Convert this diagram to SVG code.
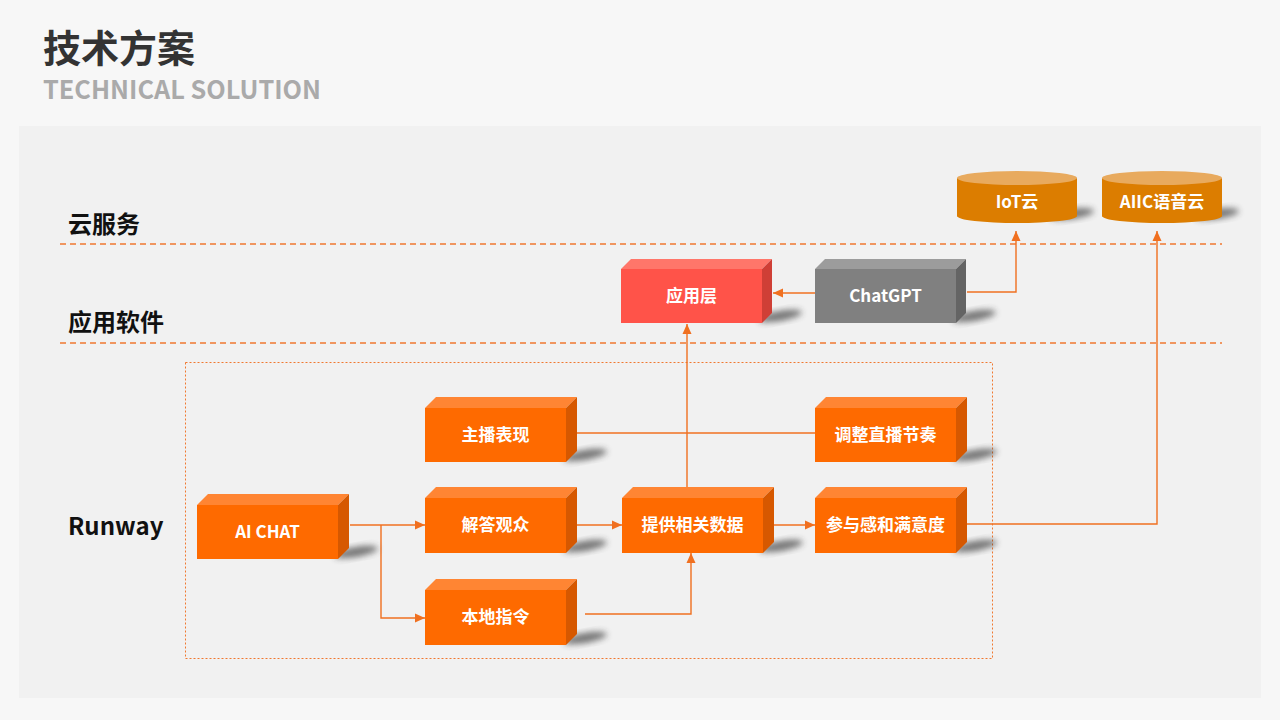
<svg xmlns="http://www.w3.org/2000/svg" width="1280" height="720" viewBox="0 0 1280 720">
<defs>
<style>
.title{font-family:"Noto Sans CJK SC","Noto Sans",sans-serif;font-weight:bold;}
.lab{font-family:"Noto Sans CJK SC","Noto Sans",sans-serif;font-weight:bold;font-size:24px;fill:#111;}
.bt{font-family:"Noto Sans CJK SC","Noto Sans",sans-serif;font-weight:bold;font-size:17px;fill:#fff;text-anchor:middle;}
.of{fill:#fe6a00}.ot{fill:#ff8533}.os{fill:#d65800}
.rf{fill:#ff5349}.rt{fill:#ff766a}.rs{fill:#cf3f36}
.gf{fill:#808080}.gt{fill:#9c9c9c}.gs{fill:#646464}
.sh{fill:#333;opacity:0.65;filter:url(#blur);}
.con{fill:none;stroke:#f07020;stroke-width:1.4;}
.dash{stroke:#f07830;stroke-width:1.3;stroke-dasharray:6 4;fill:none;}
</style>
<filter id="blur" x="-50%" y="-50%" width="200%" height="200%"><feGaussianBlur stdDeviation="3"/></filter>
<marker id="arr" markerUnits="userSpaceOnUse" markerWidth="10" markerHeight="10" viewBox="0 0 10 10" refX="10" refY="5" orient="auto"><path d="M0,0.5 L10,5 L0,9.5 Z" fill="#f07020"/></marker>
</defs>
<rect x="0" y="0" width="1280" height="720" fill="#f7f7f7"/>
<rect x="19" y="126" width="1242" height="572" fill="#f1f1f1"/>
<text class="title" x="43" y="62" font-size="38" fill="#333">技术方案</text>
<text class="title" x="43" y="99" font-size="26" fill="#aaaaaa" textLength="278" lengthAdjust="spacingAndGlyphs">TECHNICAL SOLUTION</text>

<g id="layers">
<line class="dash" x1="60" y1="244" x2="1222" y2="244"/>
<line class="dash" x1="60" y1="343" x2="1222" y2="343"/>
<text class="lab" x="68" y="233">云服务</text>
<text class="lab" x="68" y="331">应用软件</text>
<text class="lab" x="68" y="535" font-size="24.5">Runway</text>
<rect x="185.5" y="362.5" width="807" height="296" fill="none" stroke="#f07830" stroke-width="1" stroke-dasharray="2 2"/>
</g>

<g id="connectors">
<path class="con" d="M350,525 H425" marker-end="url(#arr)"/>
<path class="con" d="M381,525 V618 H425" marker-end="url(#arr)"/>
<path class="con" d="M577,433 H815"/>
<path class="con" d="M577,525 H622" marker-end="url(#arr)"/>
<path class="con" d="M585,614 H691 V553" marker-end="url(#arr)"/>
<path class="con" d="M687,487 V324" marker-end="url(#arr)"/>
<path class="con" d="M773,525 H815" marker-end="url(#arr)"/>
<path class="con" d="M967,524 H1157 V231" marker-end="url(#arr)"/>
<path class="con" d="M815,293 H773" marker-end="url(#arr)"/>
<path class="con" d="M967,292 H1016 V231" marker-end="url(#arr)" stroke="#f09060"/>
</g>

<g id="iot">
<ellipse class="sh" cx="1072" cy="214" rx="22" ry="5" transform="rotate(-8 1072 214)"/>
<path d="M957,178 V216 A60,7 0 0 0 1077,216 V178 Z" fill="#dc7d00"/>
<ellipse cx="1017" cy="178" rx="60" ry="7" fill="#e8aa5e"/>
<text class="bt" x="1017" y="208">IoT云</text>
</g>
<g id="aiic">
<ellipse class="sh" cx="1217" cy="214" rx="22" ry="5" transform="rotate(-8 1217 214)"/>
<path d="M1102,178 V216 A60,7 0 0 0 1222,216 V178 Z" fill="#dc7d00"/>
<ellipse cx="1162" cy="178" rx="60" ry="7" fill="#e8aa5e"/>
<text class="bt" x="1162" y="208">AIIC语音云</text>
</g>

<g id="yyc">
<ellipse class="sh" cx="780" cy="316" rx="22" ry="5" transform="rotate(-10 780 316)"/>
<polygon class="rt" points="621,269 631,259 772,259 762,269"/>
<polygon class="rs" points="762,269 772,259 772,313 762,323"/>
<rect class="rf" x="621" y="269" width="141" height="54"/>
<text class="bt" x="691.5" y="302">应用层</text>
</g>
<g id="chatgpt">
<ellipse class="sh" cx="974" cy="316" rx="22" ry="5" transform="rotate(-10 974 316)"/>
<polygon class="gt" points="815,269 825,259 966,259 956,269"/>
<polygon class="gs" points="956,269 966,259 966,313 956,323"/>
<rect class="gf" x="815" y="269" width="141" height="54"/>
<text class="bt" x="885.5" y="302">ChatGPT</text>
</g>

<g id="aichat">
<ellipse class="sh" cx="356" cy="552" rx="22" ry="5" transform="rotate(-10 356 552)"/>
<polygon class="ot" points="197,505 208,494 349,494 338,505"/>
<polygon class="os" points="338,505 349,494 349,548 338,559"/>
<rect class="of" x="197" y="505" width="141" height="54"/>
<text class="bt" x="267.5" y="538">AI CHAT</text>
</g>
<g id="zbbx">
<ellipse class="sh" cx="585" cy="455" rx="22" ry="5" transform="rotate(-10 585 455)"/>
<polygon class="ot" points="425,408 436,397 577,397 566,408"/>
<polygon class="os" points="566,408 577,397 577,451 566,462"/>
<rect class="of" x="425" y="408" width="141" height="54"/>
<text class="bt" x="495.5" y="441">主播表现</text>
</g>
<g id="jdgz">
<ellipse class="sh" cx="585" cy="546" rx="22" ry="5" transform="rotate(-10 585 546)"/>
<polygon class="ot" points="425,498 436,487 577,487 566,498"/>
<polygon class="os" points="566,498 577,487 577,542 566,553"/>
<rect class="of" x="425" y="498" width="141" height="55"/>
<text class="bt" x="495.5" y="531">解答观众</text>
</g>
<g id="bdzl">
<ellipse class="sh" cx="585" cy="638" rx="22" ry="5" transform="rotate(-10 585 638)"/>
<polygon class="ot" points="425,590 436,579 577,579 566,590"/>
<polygon class="os" points="566,590 577,579 577,634 566,645"/>
<rect class="of" x="425" y="590" width="141" height="55"/>
<text class="bt" x="495.5" y="623">本地指令</text>
</g>
<g id="tgxgsj">
<ellipse class="sh" cx="781" cy="546" rx="22" ry="5" transform="rotate(-10 781 546)"/>
<polygon class="ot" points="622,498 633,487 774,487 763,498"/>
<polygon class="os" points="763,498 774,487 774,542 763,553"/>
<rect class="of" x="622" y="498" width="141" height="55"/>
<text class="bt" x="692.5" y="531">提供相关数据</text>
</g>
<g id="tzzbjz">
<ellipse class="sh" cx="975" cy="455" rx="22" ry="5" transform="rotate(-10 975 455)"/>
<polygon class="ot" points="815,408 826,397 967,397 956,408"/>
<polygon class="os" points="956,408 967,397 967,451 956,462"/>
<rect class="of" x="815" y="408" width="141" height="54"/>
<text class="bt" x="885.5" y="441">调整直播节奏</text>
</g>
<g id="cyg">
<ellipse class="sh" cx="975" cy="546" rx="22" ry="5" transform="rotate(-10 975 546)"/>
<polygon class="ot" points="815,498 826,487 967,487 956,498"/>
<polygon class="os" points="956,498 967,487 967,542 956,553"/>
<rect class="of" x="815" y="498" width="141" height="55"/>
<text class="bt" x="885.5" y="531">参与感和满意度</text>
</g>
</svg>
